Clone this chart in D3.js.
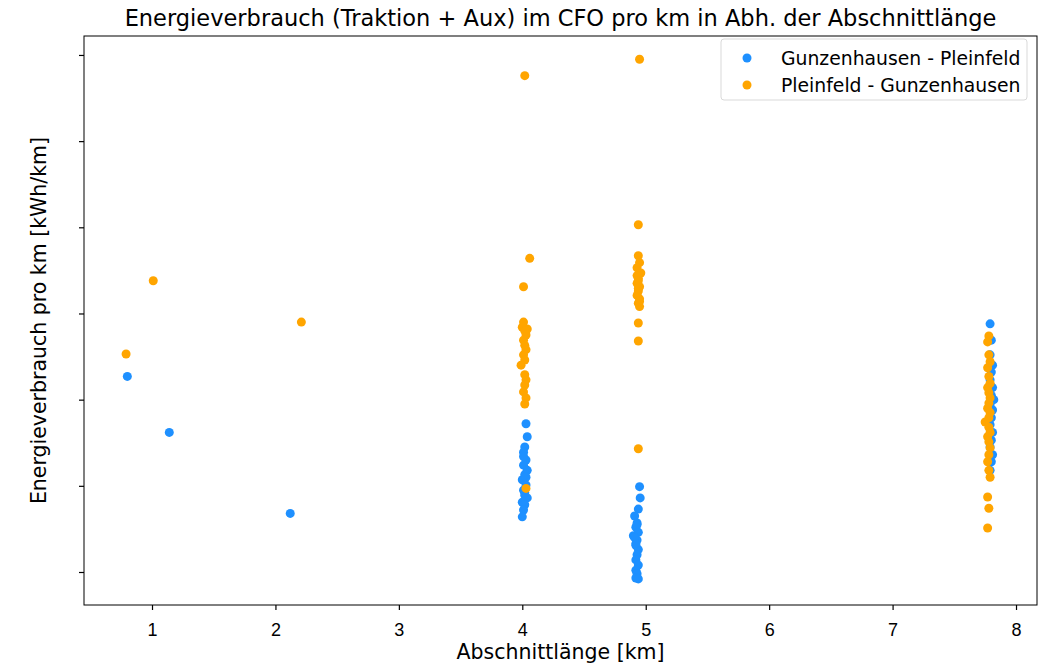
<!DOCTYPE html>
<html>
<head>
<meta charset="utf-8">
<script src="https://cdn.jsdelivr.net/npm/d3@7"></script>
<style>
  body { margin: 0; background: #fff; }
  svg { display: block; font-family: "DejaVu Sans", sans-serif; }
</style>
</head>
<body>
<svg id="chart" width="1046" height="665"></svg>
<script>
// Section length [km] and energy per km [kWh/km], direction Gunzenhausen -> Pleinfeld
const gpLength = [
  0.80, 1.14, 2.12,
  4.03, 4.04, 4.02, 4.01, 4.03, 4.01, 4.04, 4.02, 4.00, 4.03, 4.01, 4.02, 4.04, 4.00, 4.02, 4.01, 4.00, 4.03, 4.02, 4.01,
  4.95, 4.955, 4.94, 4.91, 4.93, 4.92, 4.94, 4.90, 4.93, 4.92, 4.94, 4.93, 4.92, 4.94, 4.92, 4.93, 4.92, 4.94, 4.93, 4.91, 4.92,
  7.79, 7.80, 7.79, 7.81, 7.80, 7.79, 7.81, 7.80, 7.82, 7.79, 7.81, 7.80, 7.79, 7.81, 7.80, 7.79, 7.81, 7.80, 7.79
];
const gpEnergy = [
  4.27, 3.62, 2.68,
  3.72, 3.57, 3.45, 3.39, 3.30, 3.24, 3.18, 3.13, 3.07, 3.01, 2.95, 2.89, 2.86, 2.81, 2.78, 2.72, 2.64, 3.10, 2.92, 3.34,
  2.99, 2.86, 2.73, 2.65, 2.57, 2.52, 2.46, 2.42, 2.37, 2.31, 2.26, 2.20, 2.14, 2.08, 2.02, 1.98, 1.93, 1.92, 2.55, 2.40, 2.33,
  4.88, 4.69, 4.52, 4.40, 4.32, 4.23, 4.14, 4.05, 4.00, 3.94, 3.88, 3.79, 3.71, 3.62, 3.53, 3.45, 3.36, 3.28, 3.18
];

// Direction Pleinfeld -> Gunzenhausen
const pgLength = [
  0.79, 1.01, 2.21,
  4.02, 4.06, 4.01, 4.01, 4.00, 4.04, 4.02, 4.03, 4.01, 4.02, 4.03, 4.01, 4.02, 3.99, 4.02, 4.03, 4.02, 4.01, 4.03, 4.02, 4.03,
  4.95, 4.94, 4.94, 4.95, 4.93, 4.96, 4.94, 4.93, 4.95, 4.94, 4.93, 4.95, 4.94, 4.95, 4.93, 4.94, 4.95, 4.94, 4.94, 4.94, 4.94,
  7.78, 7.77, 7.78, 7.79, 7.77, 7.78, 7.79, 7.77, 7.78, 7.79, 7.78, 7.77, 7.79, 7.78, 7.75, 7.78, 7.79, 7.77, 7.78, 7.79, 7.78, 7.77, 7.78, 7.79, 7.77, 7.78, 7.77
];
const pgEnergy = [
  4.53, 5.38, 4.90,
  7.76, 5.64, 5.31, 4.90, 4.84, 4.82, 4.80, 4.75, 4.69, 4.63, 4.58, 4.52, 4.46, 4.40, 4.29, 4.23, 4.17, 4.09, 4.02, 3.95, 2.97,
  7.95, 6.03, 5.67, 5.59, 5.53, 5.47, 5.41, 5.35, 5.31, 5.26, 5.21, 5.17, 5.12, 5.08, 5.44, 5.29, 5.14, 4.89, 4.68, 3.43, 5.38,
  4.74, 4.67, 4.52, 4.44, 4.37, 4.27, 4.19, 4.14, 4.08, 4.02, 3.96, 3.90, 3.85, 3.79, 3.74, 3.68, 3.62, 3.57, 3.51, 3.44, 3.36, 3.28, 3.18, 3.10, 2.87, 2.74, 2.51
];

const seriesNames = ["Gunzenhausen - Pleinfeld", "Pleinfeld - Gunzenhausen"];
const seriesColors = ["#1e90ff", "#ffa500"];
const xTicks = [1, 2, 3, 4, 5, 6, 7, 8];
const yTicks = [2, 3, 4, 5, 6, 7, 8];

const svg = d3.select("#chart");
const plot = { left: 84, right: 1037, top: 36, bottom: 605 };

const x = d3.scaleLinear().domain([0.449, 8.17]).range([plot.left, plot.right]);
const y = d3.scaleLinear().domain([1.617, 8.22]).range([plot.bottom, plot.top]);

// Axes
const xAxis = svg.append("g")
  .attr("transform", `translate(0,${plot.bottom})`)
  .call(d3.axisBottom(x).tickValues(xTicks).tickFormat(d3.format("d")).tickSizeOuter(0).tickSize(5).tickPadding(13));
xAxis.select(".domain").remove();
xAxis.selectAll("text").attr("font-size", 18).attr("fill", "#000");
xAxis.selectAll("line").attr("stroke", "#000").attr("stroke-width", 1.2);

const yAxis = svg.append("g")
  .attr("transform", `translate(${plot.left},0)`)
  .call(d3.axisLeft(y).tickValues(yTicks).tickFormat("").tickSizeOuter(0).tickSize(5));
yAxis.select(".domain").remove();
yAxis.selectAll("line").attr("stroke", "#000").attr("stroke-width", 1.2);

// Points: first direction, then the return direction on top
const series = [
  { len: gpLength, val: gpEnergy },
  { len: pgLength, val: pgEnergy }
];
series.forEach((s, i) => {
  svg.append("g")
    .selectAll("circle")
    .data(s.len.map((d, k) => [d, s.val[k]]))
    .join("circle")
    .attr("cx", d => x(d[0]))
    .attr("cy", d => y(d[1]))
    .attr("r", 4.5)
    .attr("fill", seriesColors[i]);
});

// Frame
svg.append("rect")
  .attr("x", plot.left).attr("y", plot.top)
  .attr("width", plot.right - plot.left).attr("height", plot.bottom - plot.top)
  .attr("fill", "none").attr("stroke", "#000").attr("stroke-width", 1);

// Title and axis labels
svg.append("text")
  .attr("x", (plot.left + plot.right) / 2).attr("y", 26)
  .attr("text-anchor", "middle").attr("font-size", 22.5)
  .text("Energieverbrauch (Traktion + Aux) im CFO pro km in Abh. der Abschnittlänge");

svg.append("text")
  .attr("x", (plot.left + plot.right) / 2).attr("y", 659)
  .attr("text-anchor", "middle").attr("font-size", 20.5)
  .text("Abschnittlänge [km]");

svg.append("text")
  .attr("transform", `translate(46,${(plot.top + plot.bottom) / 2}) rotate(-90)`)
  .attr("text-anchor", "middle").attr("font-size", 20.5)
  .text("Energieverbrauch pro km [kWh/km]");

// Legend
const legend = svg.append("g").attr("transform", "translate(721,39)");
legend.append("rect")
  .attr("width", 306).attr("height", 61).attr("rx", 3)
  .attr("fill", "#fff").attr("fill-opacity", 0.8)
  .attr("stroke", "#d9d9d9").attr("stroke-width", 1);
seriesNames.forEach((name, i) => {
  const row = legend.append("g").attr("transform", `translate(0,${19 + i * 27})`);
  row.append("circle").attr("cx", 26).attr("cy", 0).attr("r", 4.5).attr("fill", seriesColors[i]);
  row.append("text").attr("x", 60).attr("y", 7).attr("font-size", 18.8).text(name);
});
</script>
</body>
</html>
